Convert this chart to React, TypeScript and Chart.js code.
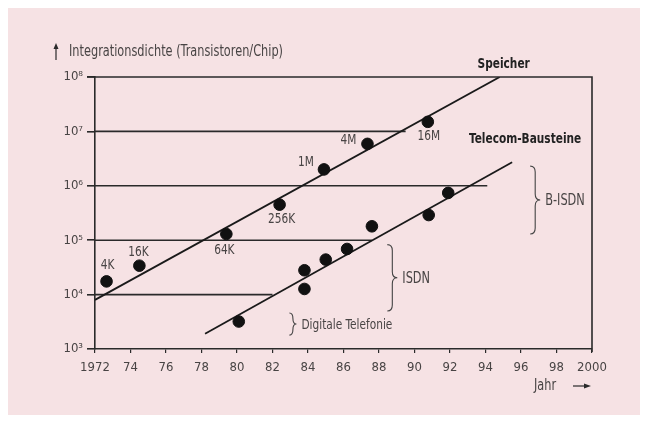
import React, { useEffect, useRef } from "react";
import { Chart, registerables } from "chart.js";

Chart.register(...registerables);

// ---- Data ----
const memoryYears = [1972.65, 1974.5, 1979.4, 1982.4, 1984.9, 1987.35, 1990.75];
const memoryValues = [1.75e4, 3.4e4, 1.3e5, 4.5e5, 2.0e6, 5.9e6, 1.5e7];
const memoryLabels = ["4K", "16K", "64K", "256K", "1M", "4M", "16M"];

const telecomYears = [1980.1, 1983.8, 1983.8, 1985.0, 1986.2, 1987.6, 1990.8, 1991.9];
const telecomValues = [3.2e3, 2.8e4, 1.27e4, 4.4e4, 6.9e4, 1.8e5, 2.9e5, 7.4e5];

const memoryTrendYears = [1972, 1994.8];
const memoryTrendValues = [8.0e3, 1.0e8];
const telecomTrendYears = [1978.2, 1995.5];
const telecomTrendValues = [1.9e3, 2.7e6];

const levelValues = [1e4, 1e5, 1e6, 1e7];
const levelEndYears = [1982.0, 1987.6, 1994.1, 1989.5];

const yExponents = [3, 4, 5, 6, 7, 8];
const xMin = 1972;
const xMax = 2000;

const groupNames = ["B-ISDN", "ISDN", "Digitale Telefonie"];
const groupYears = [1996.8, 1988.75, 1983.15];
const groupLow = [1.3e5, 5.0e3, 1.8e3];
const groupHigh = [2.3e6, 8.3e4, 4.6e3];

const seriesNames = ["Speicher", "Telecom-Bausteine"];
const yTitle = "Integrationsdichte (Transistoren/Chip)";
const xTitle = "Jahr";

// ---- Styling (not data) ----
const FONT = "'Liberation Sans Narrow', 'DejaVu Sans Condensed', 'Arial Narrow', sans-serif";
const INK = "#2a2a2a";
const TEXT = "#484444";
const BG = "#f6e2e4";
const NARROW = 0.84;
// pixel offsets for the point labels
const labelOffsets: [number, number][] = [
  [1, -16],
  [-1, -13],
  [-2, 16],
  [2, 15],
  [-18, -7],
  [-19, -4],
  [1, 15],
];

const SUP: Record<string, string> = {
  "0": "\u2070", "1": "\u00b9", "2": "\u00b2", "3": "\u00b3", "4": "\u2074",
  "5": "\u2075", "6": "\u2076", "7": "\u2077", "8": "\u2078", "9": "\u2079",
};

function narrowText(ctx: CanvasRenderingContext2D, text: string, x: number, y: number) {
  ctx.save();
  ctx.translate(x, y);
  ctx.scale(NARROW, 1);
  ctx.fillText(text, 0, 0);
  ctx.restore();
}

function drawBrace(ctx: CanvasRenderingContext2D, x: number, y1: number, y2: number, w: number) {
  const ym = (y1 + y2) / 2;
  const r = Math.min(6, (y2 - y1) / 4);
  const xm = x + w / 2;
  ctx.beginPath();
  ctx.moveTo(x, y1);
  ctx.quadraticCurveTo(xm, y1, xm, y1 + r);
  ctx.lineTo(xm, ym - r);
  ctx.quadraticCurveTo(xm, ym, x + w, ym);
  ctx.quadraticCurveTo(xm, ym, xm, ym + r);
  ctx.lineTo(xm, y2 - r);
  ctx.quadraticCurveTo(xm, y2, x, y2);
  ctx.stroke();
}

const annotationPlugin = {
  id: "annotations",
  beforeDraw(chart: any) {
    const { ctx, width, height } = chart;
    ctx.save();
    ctx.fillStyle = BG;
    ctx.fillRect(0, 0, width, height);
    ctx.restore();
  },
  afterDraw(chart: any) {
    const { ctx, chartArea } = chart;
    const xs = chart.scales.x;
    const ys = chart.scales.y;
    ctx.save();

    // frame (top & right)
    ctx.strokeStyle = INK;
    ctx.lineWidth = 1.6;
    ctx.beginPath();
    ctx.moveTo(chartArea.left - 8, chartArea.top);
    ctx.lineTo(chartArea.right, chartArea.top);
    ctx.lineTo(chartArea.right, chartArea.bottom + 3);
    ctx.stroke();

    // y title with arrow
    ctx.fillStyle = TEXT;
    ctx.font = `15px ${FONT}`;
    ctx.textBaseline = "middle";
    ctx.textAlign = "left";
    narrowText(ctx, yTitle, 61, 44);
    ctx.strokeStyle = INK;
    ctx.fillStyle = INK;
    ctx.lineWidth = 1.2;
    ctx.beginPath();
    ctx.moveTo(48, 52);
    ctx.lineTo(48, 40);
    ctx.stroke();
    ctx.beginPath();
    ctx.moveTo(48, 35);
    ctx.lineTo(45.5, 41);
    ctx.lineTo(50.5, 41);
    ctx.closePath();
    ctx.fill();

    // x title with arrow
    ctx.fillStyle = TEXT;
    ctx.font = `15px ${FONT}`;
    narrowText(ctx, xTitle, 526, 378);
    ctx.strokeStyle = INK;
    ctx.beginPath();
    ctx.moveTo(565, 378);
    ctx.lineTo(577, 378);
    ctx.stroke();
    ctx.fillStyle = INK;
    ctx.beginPath();
    ctx.moveTo(583, 378);
    ctx.lineTo(576, 375.5);
    ctx.lineTo(576, 380.5);
    ctx.closePath();
    ctx.fill();

    // point labels
    ctx.fillStyle = TEXT;
    ctx.font = `14px ${FONT}`;
    ctx.textAlign = "center";
    memoryLabels.forEach((lab, i) => {
      const px = xs.getPixelForValue(memoryYears[i]);
      const py = ys.getPixelForValue(memoryValues[i]);
      const [dx, dy] = labelOffsets[i];
      narrowText(ctx, lab, px + dx, py + dy);
    });

    // series names
    ctx.fillStyle = "#222";
    ctx.font = `bold 14px ${FONT}`;
    ctx.textAlign = "center";
    const mEndX = xs.getPixelForValue(memoryTrendYears[1]);
    narrowText(ctx, seriesNames[0], mEndX + 4, chartArea.top - 13);
    const tEndX = xs.getPixelForValue(telecomTrendYears[1]);
    const tEndY = ys.getPixelForValue(telecomTrendValues[1]);
    narrowText(ctx, seriesNames[1], tEndX + 13, tEndY - 23);

    // braces with group names
    ctx.strokeStyle = "#444";
    ctx.lineWidth = 1.1;
    ctx.fillStyle = TEXT;
    ctx.textAlign = "left";
    groupNames.forEach((name, i) => {
      const bx = xs.getPixelForValue(groupYears[i]);
      const yTop = ys.getPixelForValue(groupHigh[i]);
      const yBot = ys.getPixelForValue(groupLow[i]);
      const w = i === 2 ? 7 : 10;
      drawBrace(ctx, bx - w / 2, yTop, yBot, w);
      ctx.font = i === 2 ? `14px ${FONT}` : `15px ${FONT}`;
      narrowText(ctx, name, bx + w / 2 + 5, (yTop + yBot) / 2 + 1);
    });

    ctx.restore();
  },
};

export default function App() {
  const ref = useRef<HTMLCanvasElement | null>(null);

  useEffect(() => {
    if (!ref.current) return;

    const levelSets = levelValues.map((v, i) => ({
      type: "line" as const,
      data: [
        { x: xMin, y: v },
        { x: levelEndYears[i], y: v },
      ],
      borderColor: INK,
      borderWidth: 1.6,
      pointRadius: 0,
      showLine: true,
      order: 3,
    }));

    const chart = new Chart(ref.current, {
      type: "scatter",
      data: {
        datasets: [
          ...levelSets,
          {
            type: "line",
            label: seriesNames[0] + " trend",
            data: memoryTrendYears.map((x, i) => ({ x, y: memoryTrendValues[i] })),
            borderColor: "#1a1a1a",
            borderWidth: 1.8,
            pointRadius: 0,
            showLine: true,
            order: 2,
          },
          {
            type: "line",
            label: seriesNames[1] + " trend",
            data: telecomTrendYears.map((x, i) => ({ x, y: telecomTrendValues[i] })),
            borderColor: "#1a1a1a",
            borderWidth: 1.8,
            pointRadius: 0,
            showLine: true,
            order: 2,
          },
          {
            label: seriesNames[0],
            data: memoryYears.map((x, i) => ({ x, y: memoryValues[i] })),
            backgroundColor: "#111",
            borderColor: "#111",
            pointRadius: 5.8,
            order: 1,
          },
          {
            label: seriesNames[1],
            data: telecomYears.map((x, i) => ({ x, y: telecomValues[i] })),
            backgroundColor: "#111",
            borderColor: "#111",
            pointRadius: 5.8,
            order: 1,
          },
        ] as any,
      },
      options: {
        animation: false,
        responsive: false,
        devicePixelRatio: 1,
        layout: { padding: { left: 0, right: 48, top: 69, bottom: 36 } },
        plugins: {
          legend: { display: false },
          tooltip: { enabled: false },
        },
        scales: {
          x: {
            type: "linear",
            min: xMin,
            max: xMax,
            afterFit: (s: any) => {
              s.height = 30;
            },
            ticks: {
              stepSize: 2,
              color: TEXT,
              font: { family: FONT, size: 13 },
              padding: 7,
              maxRotation: 0,
              autoSkip: false,
              callback: (v: any) => {
                const n = Number(v);
                if (n === xMin || n === xMax) return String(n);
                return String(n % 100).padStart(2, "0");
              },
            },
            grid: {
              drawOnChartArea: false,
              drawTicks: true,
              tickLength: 4,
              color: INK,
              lineWidth: 1.2,
            },
            border: { display: true, color: INK, width: 1.6 },
          },
          y: {
            type: "logarithmic",
            min: 10 ** yExponents[0],
            max: 10 ** yExponents[yExponents.length - 1],
            afterFit: (s: any) => {
              s.width = 87;
            },
            afterBuildTicks: (axis: any) => {
              axis.ticks = yExponents.map((e) => ({ value: 10 ** e }));
            },
            ticks: {
              color: TEXT,
              font: { family: FONT, size: 13 },
              padding: 4,
              autoSkip: false,
              callback: (v: any) => {
                const e = Math.round(Math.log10(Number(v)));
                return "10" + String(e).split("").map((c) => SUP[c]).join("");
              },
            },
            grid: {
              drawOnChartArea: false,
              drawTicks: true,
              tickLength: 8,
              color: INK,
              lineWidth: 1.6,
            },
            border: { display: true, color: INK, width: 1.6 },
          },
        },
      },
      plugins: [annotationPlugin],
    });

    return () => chart.destroy();
  }, []);

  return (
    <div>
      <canvas ref={ref} width={632} height={407} style={{ display: "block" }} />
    </div>
  );
}
